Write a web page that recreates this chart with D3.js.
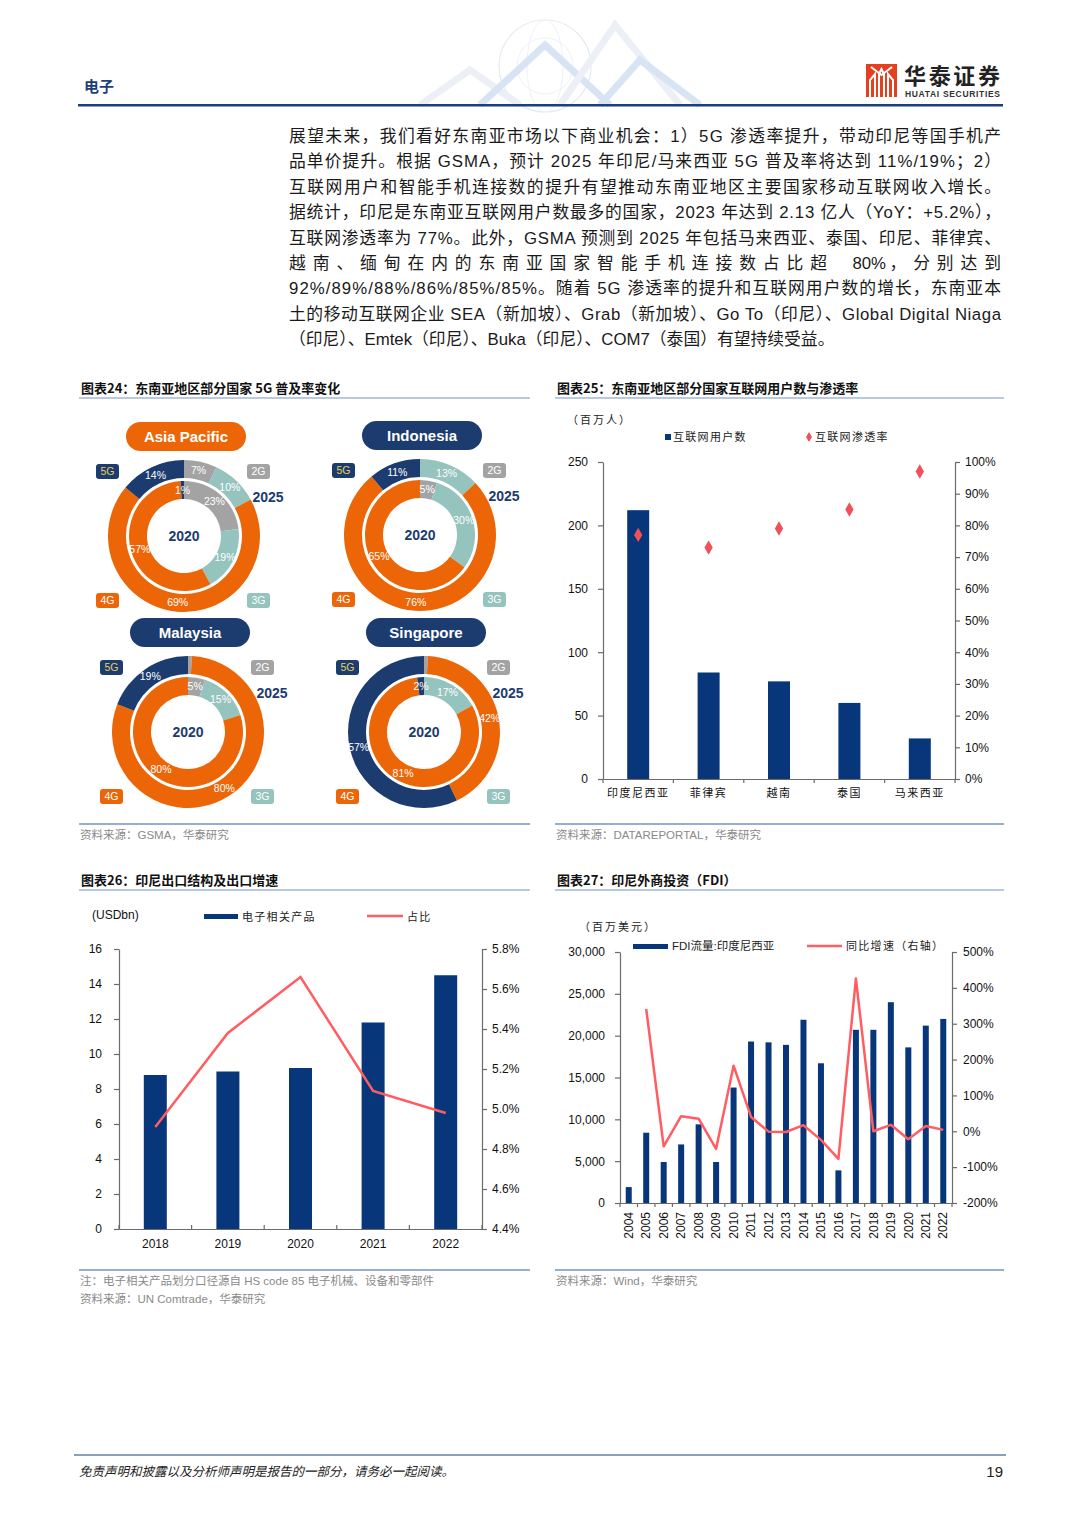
<!DOCTYPE html>
<html><head><meta charset="utf-8">
<script src="https://cdn.jsdelivr.net/npm/d3@7"></script>
<style>
body{margin:0;background:#fff}
svg{display:block}
text{font-family:"Liberation Sans","Noto Sans CJK SC",sans-serif}
.cjk{font-family:"Noto Sans CJK SC","Liberation Sans",sans-serif}
.axis text{font-family:"Liberation Sans",Arial,sans-serif;font-size:12px;fill:#111}
.axis path,.axis line{stroke:#6b6b6b;stroke-width:1.2}
</style>
</head><body>
<svg id="page" width="1080" height="1528"></svg>
<script>
// ---------------- DATA ----------------
const paragraphLines = [
  "展望未来，我们看好东南亚市场以下商业机会：1）5G 渗透率提升，带动印尼等国手机产",
  "品单价提升。根据 GSMA，预计 2025 年印尼/马来西亚 5G 普及率将达到 11%/19%；2）",
  "互联网用户和智能手机连接数的提升有望推动东南亚地区主要国家移动互联网收入增长。",
  "据统计，印尼是东南亚互联网用户数最多的国家，2023 年达到 2.13 亿人（YoY：+5.2%），",
  "互联网渗透率为 77%。此外，GSMA 预测到 2025 年包括马来西亚、泰国、印尼、菲律宾、",
  ["越南、缅甸在内的东南亚国家智能手机连接数占比超 ","80%","，分别达到"],
  "92%/89%/88%/86%/85%/85%。随着 5G 渗透率的提升和互联网用户数的增长，东南亚本",
  "土的移动互联网企业 SEA（新加坡）、Grab（新加坡）、Go To（印尼）、Global Digital Niaga",
  "（印尼）、Emtek（印尼）、Buka（印尼）、COM7（泰国）有望持续受益。"
];

// Chart 24: donut shares (order: 2G, 3G, 4G, 5G)
const networkTypes = ["2G","3G","4G","5G"];
const donutRegions = ["Asia Pacific","Indonesia","Malaysia","Singapore"];
const apac2020 = [23,19,57,1];
const apac2025 = [7,10,69,14];
const idn2020  = [5,30,65,0];
const idn2025  = [0,13,76,11];
const mys2020  = [5,15,80,0];
const mys2025  = [0.8,0,80,19];
const sgp2020  = [0,17,81,2];
const sgp2025  = [0.8,0,42,57];

// Chart 25
const countries25 = ["印度尼西亚","菲律宾","越南","泰国","马来西亚"];
const internetUsers = [212,84,77,60,32];          // 百万人
const internetPenetration = [77,73,79,85,97];     // %
const usersTicks = [0,50,100,150,200,250];
const penetrationTicks = [0,10,20,30,40,50,60,70,80,90,100];

// Chart 26
const years26 = ["2018","2019","2020","2021","2022"];
const elecExports = [8.8,9.0,9.2,11.8,14.5];      // USDbn
const elecShare = [4.91,5.38,5.66,5.09,4.98];     // %
const exportTicks = [0,2,4,6,8,10,12,14,16];
const shareTicks = [4.4,4.6,4.8,5.0,5.2,5.4,5.6,5.8];

// Chart 27
const years27 = ["2004","2005","2006","2007","2008","2009","2010","2011","2012","2013","2014","2015","2016","2017","2018","2019","2020","2021","2022"];
const fdiFlow = [1900,8400,4900,7000,9400,4900,13800,19300,19200,18900,21900,16700,3900,20700,20700,24000,18600,21200,22000];
const fdiYoY = [null,341,-42,42,35,-49,183,40,-1,-2,17,-24,-77,426,0,18,-22,15,4];
const fdiTicks = [0,5000,10000,15000,20000,25000,30000];
const yoyTicks = [-200,-100,0,100,200,300,400,500];

// ---------------- STYLE ----------------
const NAVY = "#07367a";
const RED = "#ff5d62";
const DK = "#1c3b6e";
const ORANGE = "#ec6608";
const GRAY = "#a3a3a3";
const TEAL = "#95c3be";
const segColor = {"2G":GRAY,"3G":TEAL,"4G":ORANGE,"5G":DK};
const RULE = "#7593c4";

const svg = d3.select("#page");
svg.append("rect").attr("width",1080).attr("height",1528).attr("fill","#fff");

// ---------------- HEADER ----------------
const deco = svg.append("g").attr("opacity",0.35);
deco.append("circle").attr("cx",545).attr("cy",66).attr("r",46).attr("fill","none").attr("stroke","#b7c6db").attr("stroke-width",1.2);
deco.append("circle").attr("cx",545).attr("cy",66).attr("r",28).attr("fill","none").attr("stroke","#cfd9e7").attr("stroke-width",1);
deco.append("ellipse").attr("cx",545).attr("cy",66).attr("rx",18).attr("ry",46).attr("fill","none").attr("stroke","#cfd9e7").attr("stroke-width",1);
[[420,105,470,70,520,105],[480,105,545,45,610,105],[560,105,615,25,680,105],[600,105,640,60,700,105]].forEach((p,i)=>{
  deco.append("path").attr("d",`M${p[0]},${p[1]}L${p[2]},${p[3]}L${p[4]},${p[5]}`)
    .attr("fill","none").attr("stroke",i%2?"#8fb3de":"#c9d6e6").attr("stroke-width",7);
});
svg.append("text").attr("x",84).attr("y",92).attr("class","cjk").attr("font-size",15).attr("font-weight",700).attr("fill","#1f3f7a").text("电子");
// logo
const lg = svg.append("g");
lg.append("rect").attr("x",866).attr("y",64).attr("width",31).attr("height",33).attr("fill","#e2401f");
lg.append("path").attr("d","M870,97V80l5,-6v23M879,97V74l2.5,-5 2.5,5v23M888,97V74l5,6v17").attr("fill","none").attr("stroke","#fff").attr("stroke-width",2);
lg.append("path").attr("d","M871,67l10.5,8 10.5,-8").attr("fill","none").attr("stroke","#fff").attr("stroke-width",2);
svg.append("text").attr("x",904).attr("y",84).attr("class","cjk").attr("font-size",22).attr("font-weight",700).attr("fill","#222").attr("textLength",96).text("华泰证券");
svg.append("text").attr("x",905).attr("y",97).attr("font-size",8.5).attr("font-weight",700).attr("fill","#333").attr("textLength",95).text("HUATAI SECURITIES");
svg.append("rect").attr("x",78).attr("y",104).attr("width",925).attr("height",2.5).attr("fill","#1a3f7d");

// ---------------- PARAGRAPH ----------------
paragraphLines.forEach((ln,i)=>{
  const t = svg.append("text").attr("x",289).attr("y",142+i*25.4).attr("font-size",16.8).attr("fill","#1a1a1a");
  if (Array.isArray(ln)) {
    const spans = ln.map(s=>t.append("tspan").text(s));
    const natural = t.node().getComputedTextLength();
    const ls = (712 - natural) / (ln[0].length + ln[2].length + 0.5);
    spans[0].attr("letter-spacing",ls);
    spans[1].attr("letter-spacing",0).attr("dx",ls);
    spans[2].attr("letter-spacing",ls).attr("dx",ls*0.5);
  } else {
    t.text(ln);
    if (i < paragraphLines.length-1) t.attr("textLength",712).attr("lengthAdjust","spacing");
  }
});

// ---------------- PANEL FRAMES ----------------
function panelTitle(x,y,w,txt){
  svg.append("text").attr("x",x+2).attr("y",y).attr("class","cjk").attr("font-size",13).attr("font-weight",700).attr("fill","#111").text(txt);
  svg.append("line").attr("x1",x).attr("x2",x+w).attr("y1",y+5).attr("y2",y+5).attr("stroke",RULE).attr("stroke-width",1);
}
function panelSource(x,y,w,lines){
  svg.append("line").attr("x1",x).attr("x2",x+w).attr("y1",y).attr("y2",y).attr("stroke",RULE).attr("stroke-width",1.3);
  lines.forEach((l,i)=>svg.append("text").attr("x",x+1).attr("y",y+15+i*18).attr("font-size",11.5).attr("fill","#8a8a8a").text(l));
}
panelTitle(79,393,451,"图表24：东南亚地区部分国家 5G 普及率变化");
panelTitle(555,393,449,"图表25：东南亚地区部分国家互联网用户数与渗透率");
panelTitle(79,885,451,"图表26：印尼出口结构及出口增速");
panelTitle(555,885,449,"图表27：印尼外商投资（FDI）");
panelSource(79,824,451,["资料来源：GSMA，华泰研究"]);
panelSource(555,824,449,["资料来源：DATAREPORTAL，华泰研究"]);
panelSource(79,1270,451,["注：电子相关产品划分口径源自 HS code 85 电子机械、设备和零部件","资料来源：UN Comtrade，华泰研究"]);
panelSource(555,1270,449,["资料来源：Wind，华泰研究"]);

// ---------------- CHART 24: DONUTS ----------------
const donutSpecs = [
  {name:donutRegions[0], cx:184, cy:536, pill:ORANGE, d20:apac2020, d25:apac2025},
  {name:donutRegions[1], cx:420, cy:535, pill:DK,     d20:idn2020,  d25:idn2025},
  {name:donutRegions[2], cx:188, cy:732, pill:DK,     d20:mys2020,  d25:mys2025},
  {name:donutRegions[3], cx:424, cy:732, pill:DK,     d20:sgp2020,  d25:sgp2025}
];
const pie = d3.pie().sort(null).value(d=>d.v);
const arcInner = d3.arc().innerRadius(37).outerRadius(55);
const arcOuter = d3.arc().innerRadius(58).outerRadius(76);
donutSpecs.forEach(s=>{
  const g = svg.append("g").attr("transform",`translate(${s.cx},${s.cy})`);
  [[s.d20,arcInner],[s.d25,arcOuter]].forEach(([vals,arc])=>{
    const pd = pie(vals.map((v,i)=>({v,k:networkTypes[i]})));
    g.selectAll(null).data(pd).enter().append("path").attr("d",arc).attr("fill",d=>segColor[d.data.k]);
    g.selectAll(null).data(pd.filter(d=>d.data.v>=1)).enter().append("text")
      .attr("transform",d=>`translate(${arc.centroid(d)})`)
      .attr("text-anchor","middle").attr("dy","0.35em")
      .attr("font-family","'Liberation Sans Narrow','Liberation Sans',sans-serif")
      .attr("font-size",10.5).attr("fill","#fff").text(d=>d.data.v+"%");
  });
  g.append("text").attr("text-anchor","middle").attr("dy","0.36em").attr("font-size",14).attr("font-weight",700).attr("fill",DK).text("2020");
  g.append("text").attr("x",84).attr("y",-39).attr("text-anchor","middle").attr("dy","0.36em").attr("font-size",14).attr("font-weight",700).attr("fill",DK).text("2025");
  // title pill
  g.append("rect").attr("x",-58).attr("y",-114).attr("width",120).attr("height",29).attr("rx",14.5).attr("fill",s.pill);
  g.append("text").attr("x",2).attr("y",-99.5).attr("dy","0.36em").attr("text-anchor","middle").attr("font-size",15).attr("font-weight",700).attr("fill","#fff").text(s.name);
  // legend boxes
  const boxes = [["5G",-88,-72,"#e8cf5a"],["2G",63,-72,"#fff"],["4G",-88,57,"#fff"],["3G",63,57,"#fff"]];
  boxes.forEach(([k,bx,by,tc])=>{
    g.append("rect").attr("x",bx).attr("y",by).attr("width",23).attr("height",15).attr("rx",3).attr("fill",segColor[k]);
    g.append("text").attr("x",bx+11.5).attr("y",by+7.5).attr("dy","0.36em").attr("text-anchor","middle").attr("font-size",10.5).attr("fill",tc).text(k);
  });
});

// ---------------- CHART 25 ----------------
(function(){
  const x0=603, x1=955, yTop=462, yBot=779;
  const x = d3.scaleBand().domain(countries25).range([x0,x1]);
  const yL = d3.scaleLinear().domain([0,250]).range([yBot,yTop]);
  const yR = d3.scaleLinear().domain([0,100]).range([yBot,yTop]);
  const g = svg.append("g");
  g.selectAll(null).data(countries25).enter().append("rect")
    .attr("x",d=>x(d)+x.bandwidth()/2-11).attr("width",22)
    .attr("y",(d,i)=>yL(internetUsers[i])).attr("height",(d,i)=>yBot-yL(internetUsers[i]))
    .attr("fill",NAVY);
  g.selectAll(null).data(countries25).enter().append("path")
    .attr("d",d3.symbol().type(d3.symbolDiamond).size(60))
    .attr("transform",(d,i)=>`translate(${x(d)+x.bandwidth()/2},${yR(internetPenetration[i])})`)
    .attr("fill","#f0505a");
  g.append("g").attr("class","axis").attr("transform",`translate(${x0},0)`)
    .call(d3.axisLeft(yL).tickValues(usersTicks).tickSize(5).tickPadding(10).tickSizeOuter(0));
  g.append("g").attr("class","axis").attr("transform",`translate(${x1},0)`)
    .call(d3.axisRight(yR).tickValues(penetrationTicks).tickSize(5).tickPadding(5).tickSizeOuter(0).tickFormat(d=>d+"%"));
  const xa = g.append("g").attr("class","axis").attr("transform",`translate(0,${yBot})`)
    .call(d3.axisBottom(x).tickSize(0).tickPadding(10).tickSizeOuter(0));
  xa.selectAll("text").attr("class","cjk").style("font-family","'Noto Sans CJK SC',sans-serif").attr("font-size",11).style("font-size","11px").attr("letter-spacing",1.5);
  g.selectAll(null).data(d3.range(countries25.length+1)).enter().append("line")
    .attr("x1",i=>x0+i*x.step()).attr("x2",i=>x0+i*x.step()).attr("y1",yBot).attr("y2",yBot+4)
    .attr("stroke","#6b6b6b").attr("stroke-width",1.2);
  g.append("text").attr("x",567).attr("y",424).attr("class","cjk").attr("font-size",11).attr("letter-spacing",2).attr("fill","#222").text("（百万人）");
  g.append("rect").attr("x",665).attr("y",434).attr("width",6).attr("height",6).attr("fill",NAVY);
  g.append("text").attr("x",673).attr("y",441).attr("class","cjk").attr("font-size",11).attr("letter-spacing",1.3).attr("fill","#222").text("互联网用户数");
  g.append("path").attr("d",d3.symbol().type(d3.symbolDiamond).size(30)).attr("transform","translate(809,437)").attr("fill","#f0505a");
  g.append("text").attr("x",815).attr("y",441).attr("class","cjk").attr("font-size",11).attr("letter-spacing",1.3).attr("fill","#222").text("互联网渗透率");
})();

// ---------------- CHART 26 ----------------
(function(){
  const x0=119, x1=482, yTop=949, yBot=1229;
  const x = d3.scaleBand().domain(years26).range([x0,x1]);
  const yL = d3.scaleLinear().domain([0,16]).range([yBot,yTop]);
  const yR = d3.scaleLinear().domain([4.4,5.8]).range([yBot,yTop]);
  const g = svg.append("g");
  g.selectAll(null).data(years26).enter().append("rect")
    .attr("x",d=>x(d)+x.bandwidth()/2-11.5).attr("width",23)
    .attr("y",(d,i)=>yL(elecExports[i])).attr("height",(d,i)=>yBot-yL(elecExports[i]))
    .attr("fill",NAVY);
  const line = d3.line().x((d,i)=>x(years26[i])+x.bandwidth()/2).y(d=>yR(d));
  g.append("path").datum(elecShare).attr("d",line).attr("fill","none").attr("stroke",RED).attr("stroke-width",2.5);
  g.append("g").attr("class","axis").attr("transform",`translate(${x0},0)`)
    .call(d3.axisLeft(yL).tickValues(exportTicks).tickSize(5).tickPadding(12).tickSizeOuter(0));
  g.append("g").attr("class","axis").attr("transform",`translate(${x1},0)`)
    .call(d3.axisRight(yR).tickValues(shareTicks).tickSize(5).tickPadding(5).tickSizeOuter(0).tickFormat(d=>d3.format(".1f")(d)+"%"));
  g.append("g").attr("class","axis").attr("transform",`translate(0,${yBot})`)
    .call(d3.axisBottom(x).tickSize(0).tickPadding(10).tickSizeOuter(0));
  g.selectAll(null).data(d3.range(years26.length+1)).enter().append("line")
    .attr("x1",i=>x0+i*x.step()).attr("x2",i=>x0+i*x.step()).attr("y1",yBot-4).attr("y2",yBot+1)
    .attr("stroke","#6b6b6b").attr("stroke-width",1.2);
  g.append("text").attr("x",92).attr("y",919).attr("font-size",12).attr("fill","#111").text("(USDbn)");
  g.append("rect").attr("x",204).attr("y",914).attr("width",34).attr("height",5).attr("fill",NAVY);
  g.append("text").attr("x",242).attr("y",921).attr("class","cjk").attr("font-size",11).attr("letter-spacing",1.3).attr("fill","#222").text("电子相关产品");
  g.append("line").attr("x1",367).attr("x2",403).attr("y1",916).attr("y2",916).attr("stroke",RED).attr("stroke-width",2.5);
  g.append("text").attr("x",407).attr("y",921).attr("class","cjk").attr("font-size",11).attr("letter-spacing",1.3).attr("fill","#222").text("占比");
})();

// ---------------- CHART 27 ----------------
(function(){
  const x0=620, x1=952, yTop=952, yBot=1203;
  const x = d3.scaleBand().domain(years27).range([x0,x1]);
  const yL = d3.scaleLinear().domain([0,30000]).range([yBot,yTop]);
  const yR = d3.scaleLinear().domain([-200,500]).range([yBot,yTop]);
  const g = svg.append("g");
  g.selectAll(null).data(years27).enter().append("rect")
    .attr("x",d=>x(d)+x.bandwidth()/2-3).attr("width",6)
    .attr("y",(d,i)=>yL(fdiFlow[i])).attr("height",(d,i)=>yBot-yL(fdiFlow[i]))
    .attr("fill",NAVY);
  const line = d3.line().defined(d=>d!==null).x((d,i)=>x(years27[i])+x.bandwidth()/2).y(d=>yR(d));
  g.append("path").datum(fdiYoY).attr("d",line).attr("fill","none").attr("stroke",RED).attr("stroke-width",2.5).attr("stroke-linejoin","round");
  g.append("g").attr("class","axis").attr("transform",`translate(${x0},0)`)
    .call(d3.axisLeft(yL).tickValues(fdiTicks).tickSize(5).tickPadding(10).tickSizeOuter(0).tickFormat(d3.format(",")));
  g.append("g").attr("class","axis").attr("transform",`translate(${x1},0)`)
    .call(d3.axisRight(yR).tickValues(yoyTicks).tickSize(5).tickPadding(6).tickSizeOuter(0).tickFormat(d=>d+"%"));
  const xa = g.append("g").attr("class","axis").attr("transform",`translate(0,${yBot})`)
    .call(d3.axisBottom(x).tickSize(0).tickSizeOuter(0));
  xa.selectAll("text").attr("transform","rotate(-90)").attr("text-anchor","end").attr("x",-9).attr("y",0).attr("dy","0.35em");
  g.selectAll(null).data(d3.range(years27.length+1)).enter().append("line")
    .attr("x1",i=>x0+i*x.step()).attr("x2",i=>x0+i*x.step()).attr("y1",yBot).attr("y2",yBot+4)
    .attr("stroke","#6b6b6b").attr("stroke-width",1.2);
  g.append("text").attr("x",579).attr("y",931).attr("class","cjk").attr("font-size",11).attr("letter-spacing",2).attr("fill","#222").text("（百万美元）");
  g.append("rect").attr("x",633).attr("y",944).attr("width",35).attr("height",5).attr("fill",NAVY);
  g.append("text").attr("x",672).attr("y",950).attr("font-size",11.5).attr("fill","#222").text("FDI流量:印度尼西亚");
  g.append("line").attr("x1",807).attr("x2",842).attr("y1",946).attr("y2",946).attr("stroke",RED).attr("stroke-width",2.5);
  g.append("text").attr("x",846).attr("y",950).attr("class","cjk").attr("font-size",11).attr("letter-spacing",1.3).attr("fill","#222").text("同比增速（右轴）");
})();

// ---------------- FOOTER ----------------
svg.append("line").attr("x1",74).attr("x2",1006).attr("y1",1455).attr("y2",1455).attr("stroke","#1a3f7d").attr("stroke-width",1.2);
svg.append("text").attr("x",79).attr("y",1476).attr("class","cjk").attr("font-size",12.5).attr("font-style","italic").attr("fill","#222").text("免责声明和披露以及分析师声明是报告的一部分，请务必一起阅读。");
svg.append("text").attr("x",1003).attr("y",1477).attr("text-anchor","end").attr("font-size",15).attr("fill","#222").text("19");
</script>
</body></html>
